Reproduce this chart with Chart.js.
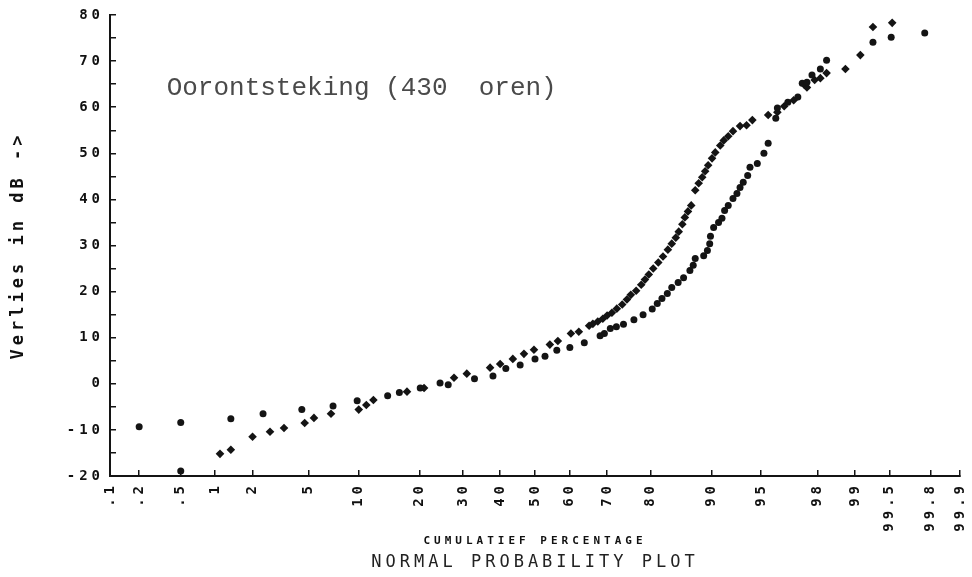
<!DOCTYPE html>
<html>
<head>
<meta charset="utf-8">
<script src="https://cdn.jsdelivr.net/npm/chart.js@4.4.0/dist/chart.umd.min.js"></script>
<style>
  html, body { margin: 0; background: #fff; }
  #wrap { width: 972px; height: 577px; }
</style>
</head>
<body>
<div id="wrap"><canvas id="plot" width="972" height="577"></canvas></div>
<script>
// probability axis: cumulative percentages and their labels
const pctTicks = [0.1, 0.2, 0.5, 1, 2, 5, 10, 20, 30, 40, 50, 60, 70, 80, 90, 95, 98, 99, 99.5, 99.8, 99.9];
const pctLabels = ['.1', '.2', '.5', '1', '2', '5', '10', '20', '30', '40', '50', '60', '70', '80', '90', '95', '98', '99', '99.5', '99.8', '99.9'];
const dbMin = -20;
const dbMax = 80;

// first group (round markers): cumulative % and loss in dB
const circlePct = [0.2, 0.5, 0.5, 1.35, 2.4, 4.5, 7.1, 9.8, 14.2, 16.2, 20.2, 24.5, 26.4, 33.0, 38.0, 41.6, 45.7, 50.0, 52.9, 56.3,
  60.0, 64.0, 68.2, 69.3, 70.8, 72.3, 74.0, 76.4, 78.4, 80.3, 81.3, 82.2, 83.2, 84.0, 85.1, 86.0, 87.0, 87.5, 87.8, 89.0,
  89.5, 89.8, 89.9, 90.3, 90.9, 91.3, 91.6, 92.0, 92.5, 92.9, 93.2, 93.5, 93.9, 94.1, 94.7, 95.2, 95.5, 96.0, 96.1, 96.7,
  97.2, 97.4, 97.6, 97.8, 98.1, 98.3, 99.3, 99.52, 99.77];
const circleDb = [-9.3, -8.4, -18.9, -7.6, -6.5, -5.6, -4.8, -3.7, -2.6, -1.9, -0.9, 0.2, -0.2, 1.1, 1.7, 3.3, 4.1, 5.4, 6.0, 7.3,
  7.9, 8.9, 10.4, 10.9, 12.0, 12.4, 12.9, 13.9, 15.0, 16.2, 17.4, 18.5, 19.6, 20.9, 22.0, 23.0, 24.6, 25.7, 27.2, 27.8,
  28.9, 30.4, 32.0, 33.9, 35.0, 35.9, 37.6, 38.7, 40.2, 41.3, 42.6, 43.7, 45.2, 47.0, 47.8, 50.0, 52.2, 57.6, 59.8, 61.1,
  62.2, 65.2, 65.4, 67.0, 68.3, 70.2, 74.1, 75.2, 76.1];

// second group (diamond markers)
const diamondPct = [1.1, 1.35, 2.0, 2.7, 3.4, 4.7, 5.4, 6.9, 10.0, 11.0, 12.0, 17.6, 21.0, 27.8, 31.0, 37.2, 40.0, 43.6, 46.8, 49.7,
  54.3, 56.6, 60.3, 62.5, 65.3, 66.3, 67.6, 68.9, 70.0, 71.2, 72.4, 73.7, 74.8, 75.7, 76.9, 78.0, 78.8, 79.6, 80.5, 81.5,
  82.4, 83.3, 84.0, 84.7, 85.2, 85.8, 86.2, 86.7, 87.2, 87.8, 88.3, 88.8, 89.2, 89.6, 90.1, 90.5, 91.1, 91.5, 92.0, 92.5,
  93.2, 93.8, 94.3, 95.5, 96.1, 96.5, 97.0, 97.5, 97.6, 97.9, 98.1, 98.3, 98.8, 99.1, 99.3, 99.53];
const diamondDb = [-15.2, -14.3, -11.5, -10.4, -9.6, -8.5, -7.4, -6.5, -5.6, -4.6, -3.5, -1.7, -0.9, 1.3, 2.2, 3.5, 4.3, 5.4, 6.5, 7.4,
  8.5, 9.3, 10.9, 11.3, 12.6, 13.0, 13.5, 14.1, 14.8, 15.4, 16.3, 17.2, 18.3, 19.3, 20.2, 21.5, 22.6, 23.7, 25.0, 26.3,
  27.6, 29.1, 30.4, 31.7, 33.0, 34.6, 36.1, 37.4, 38.7, 42.0, 43.5, 44.8, 46.1, 47.4, 48.9, 50.2, 51.7, 52.8, 53.7, 54.8,
  55.9, 56.1, 57.2, 58.3, 58.9, 60.2, 61.5, 64.8, 64.3, 65.9, 66.3, 67.4, 68.3, 71.3, 77.4, 78.3];

const noteText = 'Oorontsteking (430  oren)';
const notePct = 0.37;
const noteDb = 62.6;

// inverse normal CDF (Acklam), percent -> normal score
function probit(pct) {
  const p = pct / 100;
  const a = [-39.69683028665376, 220.9460984245205, -275.9285104469687, 138.3577518672690, -30.66479806614716, 2.506628277459239];
  const b = [-54.47609879822406, 161.5858368580409, -155.6989798598866, 66.80131188771972, -13.28068155288572];
  const c = [-0.007784894002430293, -0.3223964580411365, -2.400758277161838, -2.549732539343734, 4.374664141464968, 2.938163982698783];
  const d = [0.007784695709041462, 0.3224671290700398, 2.445134137142996, 3.754408661907416];
  const lo = 0.02425;
  if (p < lo || p > 1 - lo) {
    const q = Math.sqrt(-2 * Math.log(p < lo ? p : 1 - p));
    const v = (((((c[0] * q + c[1]) * q + c[2]) * q + c[3]) * q + c[4]) * q + c[5]) /
              ((((d[0] * q + d[1]) * q + d[2]) * q + d[3]) * q + 1);
    return p < lo ? v : -v;
  }
  const q = p - 0.5, r = q * q;
  return (((((a[0] * r + a[1]) * r + a[2]) * r + a[3]) * r + a[4]) * r + a[5]) * q /
         (((((b[0] * r + b[1]) * r + b[2]) * r + b[3]) * r + b[4]) * r + 1);
}

const toPoints = (pcts, dbs) => pcts.map((p, i) => ({ x: probit(p), y: dbs[i] }));

const ink = '#141414';
const mono = 'DejaVu Sans Mono';

// plotter-style wide lettering for axes and titles, plain text for the note
const plotterText = {
  id: 'plotterText',
  beforeDraw(chart) {
    const ctx = chart.ctx;
    ctx.save();
    ctx.fillStyle = '#fff';
    ctx.fillRect(0, 0, chart.width, chart.height);
    ctx.restore();
    ctx.letterSpacing = '4px';
  },
  beforeDatasetsDraw(chart) {
    chart.ctx.letterSpacing = '0px';
  },
  afterDatasetsDraw(chart) {
    const ctx = chart.ctx;
    const xs = chart.scales.x, ys = chart.scales.y;
    ctx.save();
    ctx.font = '26px "Liberation Mono"';
    ctx.fillStyle = '#4a4a4a';
    ctx.textBaseline = 'alphabetic';
    ctx.fillText(noteText, xs.getPixelForValue(probit(notePct)), ys.getPixelForValue(noteDb));
    ctx.restore();
  }
};

const ctx = document.getElementById('plot').getContext('2d');
new Chart(ctx, {
  type: 'scatter',
  data: {
    datasets: [{
      data: toPoints(circlePct, circleDb),
      pointStyle: 'circle',
      pointRadius: 3.5,
      backgroundColor: ink,
      borderWidth: 0
    }, {
      data: toPoints(diamondPct, diamondDb),
      pointStyle: 'rectRot',
      pointRadius: 4.3,
      backgroundColor: ink,
      borderWidth: 0
    }]
  },
  options: {
    responsive: false,
    animation: false,
    events: [],
    layout: { padding: { top: 15, right: 12, bottom: 0, left: 0 } },
    plugins: {
      legend: { display: false },
      tooltip: { enabled: false },
      title: {
        display: true,
        position: 'bottom',
        fullSize: false,
        text: 'NORMAL PROBABILITY PLOT',
        color: '#222',
        font: { family: mono, size: 17, weight: 'normal', lineHeight: 1 },
        padding: { top: 0, bottom: 6 }
      }
    },
    scales: {
      x: {
        type: 'linear',
        min: probit(0.1),
        max: probit(99.9),
        afterBuildTicks: s => { s.ticks = pctTicks.map(p => ({ value: probit(p) })); },
        afterFit: s => { s.height = 78; s.paddingLeft = 0; s.paddingRight = 0; },
        ticks: {
          autoSkip: false,
          minRotation: 90,
          maxRotation: 90,
          padding: 12,
          color: '#111',
          font: { family: mono, size: 14, weight: 'bold' },
          callback: (v, i) => pctLabels[i]
        },
        grid: { drawOnChartArea: false, drawTicks: true, tickLength: -6, color: ink, lineWidth: 1.5 },
        border: { display: true, color: ink, width: 2 },
        title: {
          display: true,
          text: 'CUMULATIEF PERCENTAGE',
          color: '#111',
          font: { family: mono, size: 11, weight: 'bold' },
          padding: { top: 0, bottom: 6 }
        }
      },
      y: {
        min: dbMin,
        max: dbMax,
        afterFit: s => { s.width = 110; s.paddingTop = 0; s.paddingBottom = 0; },
        ticks: {
          stepSize: 5,
          autoSkip: false,
          padding: 12,
          color: '#111',
          font: { family: mono, size: 14, weight: 'bold' },
          callback: v => (v % 10 === 0 ? String(v) : '')
        },
        grid: { drawOnChartArea: false, drawTicks: true, tickLength: -6, color: ink, lineWidth: 1.5 },
        border: { display: true, color: ink, width: 2 },
        title: {
          display: true,
          text: 'Verlies in dB ->',
          color: '#111',
          font: { family: mono, size: 17, weight: 'bold' },
          padding: { top: 8 }
        }
      }
    }
  },
  plugins: [plotterText]
});
</script>
</body>
</html>
